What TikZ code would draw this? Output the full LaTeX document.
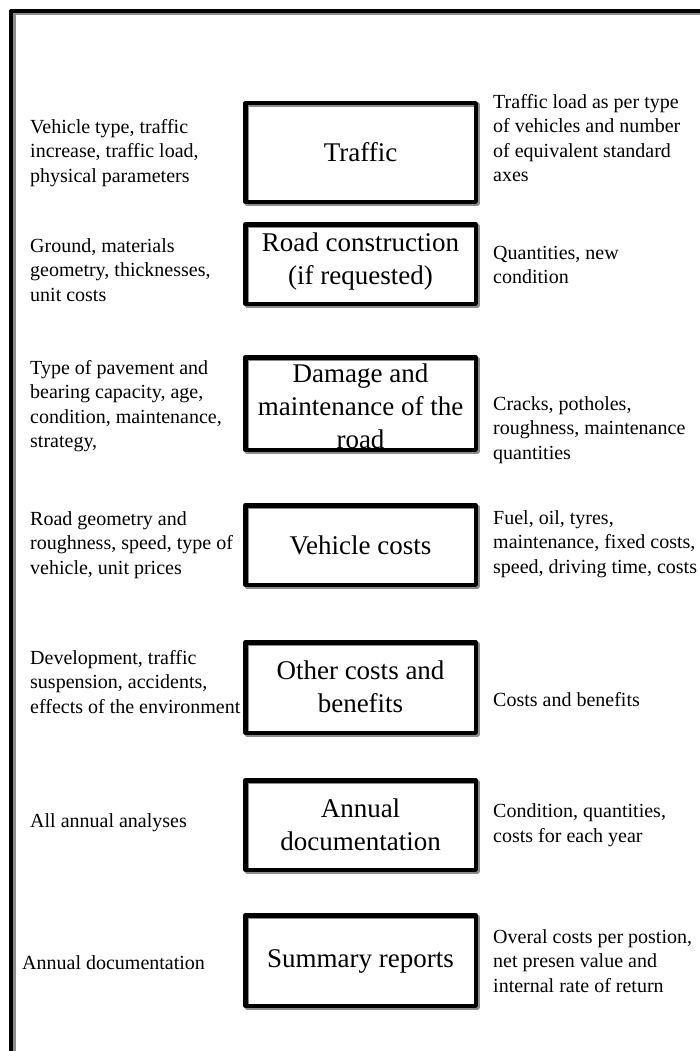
\documentclass[tikz,border=0pt]{standalone}
\usepackage{fontspec}
\setmainfont{Liberation Serif}
\begin{document}
\begin{tikzpicture}[x=1pt,y=-1pt,
  box/.style={draw=black, line width=4.5pt, line join=round, minimum width=230.5pt, inner sep=0pt},
  shadowbox/.style={draw=black!45, line width=4.5pt, line join=round},
  boxtext/.style={align=center, inner sep=0pt, font=\fontsize{27}{33}\selectfont},
  lefttext/.style={anchor=west, align=left, inner sep=0pt, font=\fontsize{20}{24.5}\selectfont},
  righttext/.style={anchor=west, align=left, inner sep=0pt, font=\fontsize{20}{24.5}\selectfont}]
\useasboundingbox (0,0) rectangle (700,1051);
% frame
\draw[draw=black!45, line width=4pt] (13.5,1060) -- (13.5,13.5) -- (710,13.5);
\draw[line width=4pt, line join=round] (11,1060) -- (11,11) -- (710,11);
% boxes (center y, outer height)
\foreach \n/\cy/\h in {1/152.5/103, 2/264/84, 3/403.5/97, 4/545/84, 5/687.5/95, 6/825/94, 7/960.5/95}{
  \pgfmathsetmacro{\hh}{\h-4.5}
  \draw[shadowbox] (246.75,\cy-\hh/2+1.5) rectangle (477.25,\cy+\hh/2+1.5);
  \node[box, minimum height=\hh pt] (b\n) at (360.5,\cy) {};
}
% box texts
\node[boxtext] (t1) at (360.5,152) {Traffic};
\node[boxtext] (t2) at (360.5,262) {Road construction\\(if requested)};
\node[boxtext] (t3) at (360.5,406) {Damage and\\maintenance of the\\road};
\node[boxtext] (t4) at (360.5,545) {Vehicle costs};
\node[boxtext] (t5) at (360.5,687) {Other costs and\\benefits};
\node[boxtext] (t6) at (360.5,825) {Annual\\documentation};
\node[boxtext] (t7) at (360.5,961) {Summary reports};
% left texts
\node[lefttext] (l1) at (30,153) {Vehicle type, traffic\\increase, traffic load,\\physical parameters};
\node[lefttext] (l2) at (30,270) {Ground, materials\\geometry, thicknesses,\\unit costs};
\node[lefttext] (l3) at (30,406) {Type of pavement and\\bearing capacity, age,\\condition, maintenance,\\strategy,};
\node[lefttext] (l4) at (30,545) {Road geometry and\\roughness, speed, type of\\vehicle, unit prices};
\node[lefttext] (l5) at (30,682) {Development, traffic\\suspension, accidents,\\effects of the environment};
\node[lefttext] (l6) at (30,823) {All annual analyses};
\node[lefttext] (l7) at (22,963) {Annual documentation};
% right texts
\node[righttext] (r1) at (493,138) {Traffic load as per type\\of vehicles and number\\of equivalent standard\\axes};
\node[righttext] (r2) at (493,265) {Quantities, new\\condition};
\node[righttext] (r3) at (493,430) {Cracks, potholes,\\roughness, maintenance\\quantities};
\node[righttext] (r4) at (493,544) {Fuel, oil, tyres,\\maintenance, fixed costs,\\speed, driving time, costs};
\node[righttext] (r5) at (493,700) {Costs and benefits};
\node[righttext] (r6) at (493,825) {Condition, quantities,\\costs for each year};
\node[righttext] (r7) at (493,961) {Overal costs per postion,\\net presen value and\\internal rate of return};
\end{tikzpicture}
\end{document}
